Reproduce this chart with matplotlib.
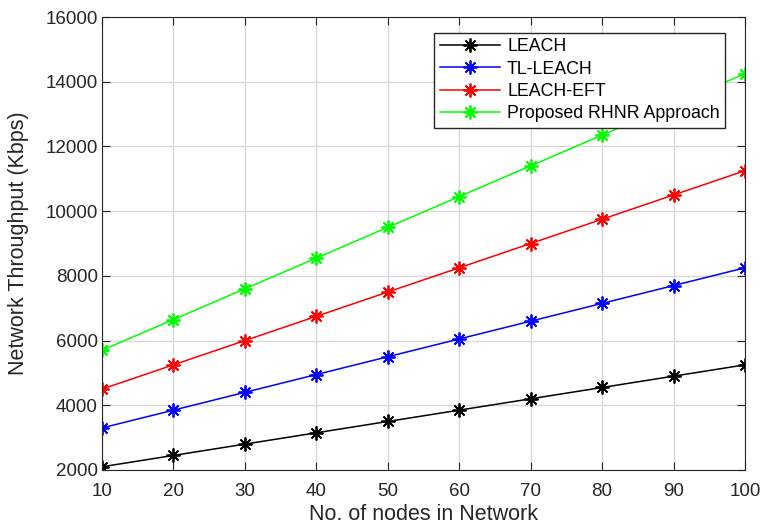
import matplotlib.pyplot as plt
import numpy as np

plt.rcParams['font.family'] = ['Liberation Sans', 'DejaVu Sans']

nodes = [10, 20, 30, 40, 50, 60, 70, 80, 90, 100]
leach = [2100, 2450, 2800, 3150, 3500, 3850, 4200, 4550, 4900, 5250]
tl_leach = [3300, 3850, 4400, 4950, 5500, 6050, 6600, 7150, 7700, 8250]
leach_eft = [4500, 5250, 6000, 6750, 7500, 8250, 9000, 9750, 10500, 11250]
rhnr = [5700, 6650, 7600, 8550, 9500, 10450, 11400, 12350, 13300, 14250]

fig = plt.figure(figsize=(7.62, 5.29), dpi=100)
ax = fig.add_axes([102/762, 1 - 470/529, 643/762, 453/529])

# matlab-style asterisk: plus and cross together
star = (8, 2, 0)

series = [(leach, 'k', 'LEACH'),
          (tl_leach, '#0000ff', 'TL-LEACH'),
          (leach_eft, '#ff0000', 'LEACH-EFT'),
          (rhnr, '#00ff00', 'Proposed RHNR Approach')]
for ys, c, lab in series:
    ax.plot(nodes, ys, color=c, marker=star, markersize=10, linewidth=1.1,
            markeredgewidth=1.3, label=lab)

ax.set_xlim(10, 100)
ax.set_ylim(2000, 16000)
ax.set_xticks(range(10, 101, 10))
ax.set_yticks(range(2000, 16001, 2000))
ax.grid(True, color='#d9d9d9', linewidth=1)
ax.set_axisbelow(True)
ax.tick_params(direction='in', top=True, right=True, labelsize=13.5, length=6,
               colors='#262626')
ax.tick_params(axis='x', pad=9)
ax.tick_params(axis='y', pad=3)
for s in ax.spines.values():
    s.set_color('#262626')
ax.set_xlabel('No. of nodes in Network', fontsize=15.5, color='#262626', labelpad=3)
ax.set_ylabel('Network Throughput (Kbps)', fontsize=15.5, color='#262626', labelpad=12)

leg = ax.legend(loc='upper right', bbox_to_anchor=(0.969, 0.965), borderaxespad=0,
                fontsize=12.8, fancybox=False, framealpha=1, edgecolor='#262626',
                handlelength=3.4, borderpad=0.3, labelspacing=0.3,
                handletextpad=0.4)
leg.get_frame().set_linewidth(1)

fig.savefig('out.png', dpi=100)
